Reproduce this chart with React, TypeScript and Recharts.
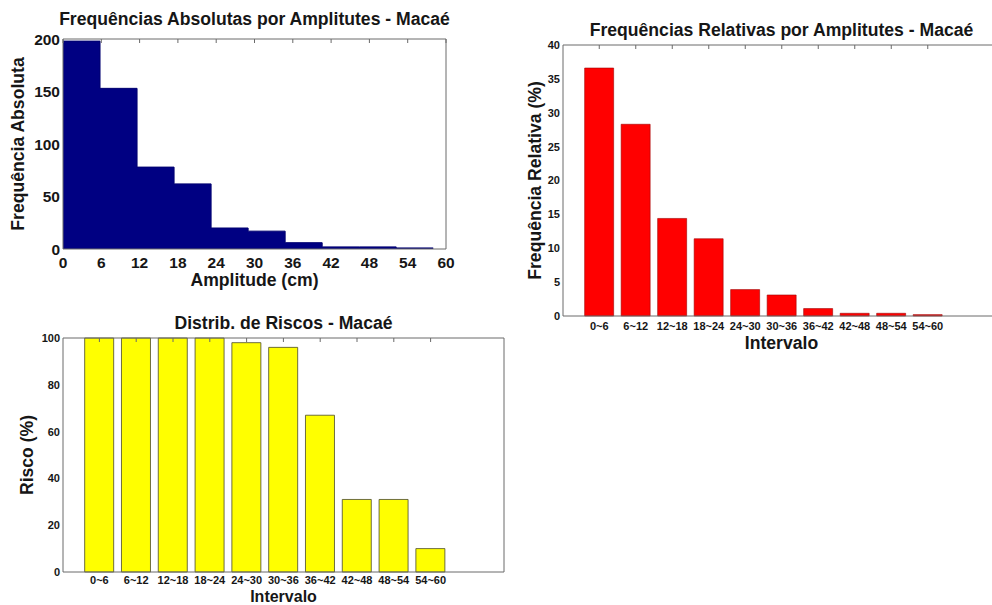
import { Area, AreaChart, Bar, BarChart, XAxis, YAxis } from 'recharts';

const FONT = '"Liberation Sans", Arial, Helvetica, sans-serif';
const AXIS = '#6a6a6a';
const INK = '#161616';

// histograma: 10 classes entre 0 e 58 cm
const binEdges = [0, 5.8, 11.6, 17.4, 23.2, 29, 34.8, 40.6, 46.4, 52.2, 58];
const absCounts = [198, 153, 78, 62, 20, 17, 6, 2, 2, 1];
const ampTicks = [0, 6, 12, 18, 24, 30, 36, 42, 48, 54, 60];
const absTicks = [0, 50, 100, 150, 200];

const intervals = ['0~6', '6~12', '12~18', '18~24', '24~30', '30~36', '36~42', '42~48', '48~54', '54~60'];
const relFreq = [36.6, 28.3, 14.4, 11.4, 3.9, 3.1, 1.1, 0.4, 0.4, 0.2];
const relTicks = [0, 5, 10, 15, 20, 25, 30, 35, 40];
const risk = [100, 100, 100, 100, 98, 96, 67, 31, 31, 10];
const riskTicks = [0, 20, 40, 60, 80, 100];

const histData = binEdges.map((x, i) => ({ x, n: absCounts[Math.min(i, absCounts.length - 1)] }));
const relData = intervals.map((name, i) => ({ name, pct: relFreq[i] }));
const riskData = intervals.map((name, i) => ({ name, risco: risk[i] }));

const bigText = { fontSize: 17.6, fontWeight: 'bold' as const, fill: INK };

// eixos espelhados (topo / direita): só os traços, sem rótulos
const noLabel = () => <g />;

function Title(props: any) {
  const { viewBox, caption, by } = props;
  return (
    <text x={viewBox.x + viewBox.width / 2} y={by} textAnchor="middle" {...bigText}>
      {caption}
    </text>
  );
}

function XTitle(props: any) {
  const { viewBox, caption, by, size } = props;
  return (
    <text
      x={viewBox.x + viewBox.width / 2}
      y={by}
      textAnchor="middle"
      {...bigText}
      fontSize={size ?? bigText.fontSize}
    >
      {caption}
    </text>
  );
}

function YTitle(props: any) {
  const { viewBox, caption, bx } = props;
  const cy = viewBox.y + viewBox.height / 2;
  return (
    <text transform={`translate(${bx},${cy}) rotate(-90)`} textAnchor="middle" {...bigText}>
      {caption}
    </text>
  );
}

function AbsChart() {
  const tick = { fontSize: 15.5, fontWeight: 'bold', fill: INK };
  return (
    <AreaChart width={460} height={300} data={histData} margin={{ top: 39, right: 14, bottom: 0, left: 0 }}>
      <XAxis
        dataKey="x"
        type="number"
        domain={[0, 60]}
        ticks={ampTicks}
        interval={0}
        height={51}
        tickLine={false}
        axisLine={{ stroke: AXIS }}
        tick={tick}
        label={<XTitle caption="Amplitude (cm)" by={286} />}
      />
      <XAxis
        xAxisId="top"
        orientation="top"
        dataKey="x"
        type="number"
        domain={[0, 60]}
        ticks={ampTicks}
        mirror
        height={1}
        tick={noLabel}
        tickSize={4}
        tickLine={{ stroke: AXIS }}
        axisLine={{ stroke: AXIS }}
        label={<Title caption="Frequências Absolutas por Amplitutes - Macaé" by={25} />}
      />
      <YAxis
        type="number"
        domain={[0, 200]}
        ticks={absTicks}
        width={63}
        tickLine={false}
        tickSize={0}
        tickMargin={3}
        axisLine={{ stroke: AXIS }}
        tick={tick}
        label={<YTitle caption="Frequência Absoluta" bx={24} />}
      />
      <YAxis
        yAxisId="right"
        orientation="right"
        type="number"
        domain={[0, 200]}
        ticks={absTicks}
        mirror
        width={1}
        tick={noLabel}
        tickSize={4}
        tickLine={{ stroke: AXIS }}
        axisLine={{ stroke: AXIS }}
      />
      <Area
        type="stepAfter"
        dataKey="n"
        fill="#000082"
        fillOpacity={1}
        stroke="#000070"
        dot={false}
        activeDot={false}
        isAnimationActive={false}
      />
    </AreaChart>
  );
}

function RelChart() {
  const tick = { fontSize: 11, fontWeight: 'bold', fill: INK };
  return (
    <BarChart width={480} height={360} data={relData} margin={{ top: 45, right: 0, bottom: 0, left: 0 }}>
      <XAxis
        dataKey="name"
        padding={{ left: 18, right: 54 }}
        interval={0}
        height={44}
        tickLine={false}
        tickSize={4}
        axisLine={{ stroke: AXIS }}
        tick={tick}
        label={<XTitle caption="Intervalo" by={348.5} />}
      />
      <XAxis
        xAxisId="top"
        orientation="top"
        dataKey="name"
        padding={{ left: 18, right: 54 }}
        interval={0}
        mirror
        height={1}
        tick={noLabel}
        tickSize={4}
        tickLine={{ stroke: AXIS }}
        axisLine={{ stroke: AXIS }}
        label={<Title caption="Frequências Relativas por Amplitutes - Macaé" by={36} />}
      />
      <YAxis
        type="number"
        domain={[0, 40]}
        ticks={relTicks}
        width={43}
        tickLine={false}
        tickSize={0}
        tickMargin={3}
        axisLine={{ stroke: AXIS }}
        tick={tick}
        label={<YTitle caption="Frequência Relativa (%)" bx={21} />}
      />
      <YAxis
        yAxisId="right"
        orientation="right"
        type="number"
        domain={[0, 40]}
        ticks={relTicks}
        mirror
        width={1}
        tick={noLabel}
        tickSize={4}
        tickLine={{ stroke: AXIS }}
        axisLine={{ stroke: AXIS }}
      />
      <Bar dataKey="pct" fill="#ff0000" stroke="#a00000" strokeWidth={0.6} isAnimationActive={false} />
    </BarChart>
  );
}

function RiskChart() {
  const tick = { fontSize: 11, fontWeight: 'bold', fill: INK };
  return (
    <BarChart width={520} height={305} data={riskData} margin={{ top: 38, right: 16, bottom: 0, left: 0 }}>
      <XAxis
        dataKey="name"
        padding={{ left: 18, right: 55 }}
        interval={0}
        height={33}
        tickLine={false}
        tickSize={2}
        axisLine={{ stroke: AXIS }}
        tick={tick}
        label={<XTitle caption="Intervalo" by={301.5} size={16} />}
      />
      <XAxis
        xAxisId="top"
        orientation="top"
        dataKey="name"
        padding={{ left: 18, right: 55 }}
        interval={0}
        mirror
        height={1}
        tick={noLabel}
        tickSize={4}
        tickLine={{ stroke: AXIS }}
        axisLine={{ stroke: AXIS }}
        label={<Title caption="Distrib. de Riscos - Macaé" by={29} />}
      />
      <YAxis
        type="number"
        domain={[0, 100]}
        ticks={riskTicks}
        width={63}
        tickLine={false}
        tickSize={0}
        tickMargin={3}
        axisLine={{ stroke: AXIS }}
        tick={tick}
        label={<YTitle caption="Risco (%)" bx={33} />}
      />
      <YAxis
        yAxisId="right"
        orientation="right"
        type="number"
        domain={[0, 100]}
        ticks={riskTicks}
        mirror
        width={1}
        tick={noLabel}
        tickSize={4}
        tickLine={{ stroke: AXIS }}
        axisLine={{ stroke: AXIS }}
      />
      <Bar dataKey="risco" fill="#ffff00" stroke="#4a4a2a" strokeWidth={0.8} isAnimationActive={false} />
    </BarChart>
  );
}

export default function App() {
  return (
    <div
      style={{
        position: 'absolute',
        left: 0,
        top: 0,
        width: 992,
        height: 605,
        overflow: 'hidden',
        background: '#fff',
        fontFamily: FONT,
      }}
    >
      <div style={{ position: 'absolute', left: 0, top: 0 }}>
        <AbsChart />
      </div>
      <div style={{ position: 'absolute', left: 520, top: 0 }}>
        <RelChart />
      </div>
      <div style={{ position: 'absolute', left: 0, top: 300 }}>
        <RiskChart />
      </div>
    </div>
  );
}
